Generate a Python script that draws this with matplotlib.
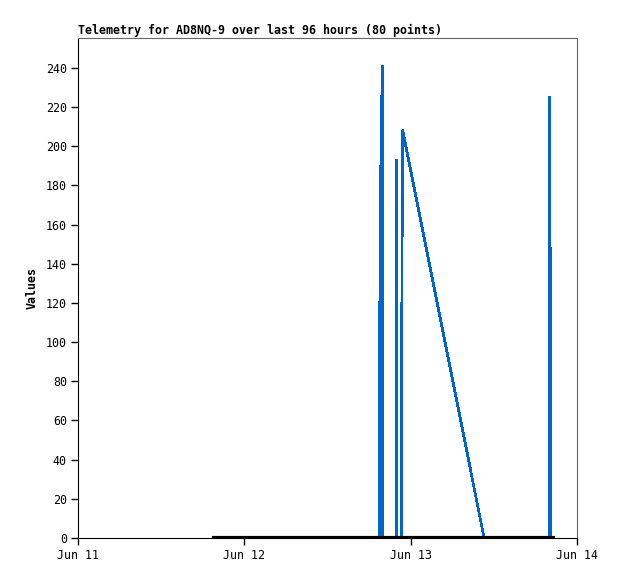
import matplotlib
matplotlib.use("Agg")
import matplotlib.pyplot as plt
import matplotlib.dates as mdates
import pandas as pd

# hours since Jun 11 00:00
hours = [19.6, 20.4, 21.3, 22.1, 23.0, 23.8, 24.7, 25.5, 26.4, 27.2,
         28.1, 28.9, 29.8, 30.6, 31.5, 32.3, 33.2, 34.0, 34.9, 35.7,
         36.6, 37.4, 38.3, 39.1, 40.0, 40.8, 41.7, 42.5, 43.48,
         43.5, 43.7, 43.9, 43.92, 44.8, 45.5, 45.98, 46.0, 46.02,
         46.68, 46.7, 46.85,
         58.6, 59.4, 60.3, 61.1, 62.0, 62.8, 63.7, 64.5, 65.4, 66.2, 67.1, 68.03,
         68.05, 68.2, 68.22, 68.5]
values = [0, 0, 0, 0, 0, 0, 0, 0, 0, 0,
          0, 0, 0, 0, 0, 0, 0, 0, 0, 0,
          0, 0, 0, 0, 0, 0, 0, 0, 0,
          97, 193, 241, 0, 0, 0, 0, 193, 0,
          0, 104, 208,
          0, 0, 0, 0, 0, 0, 0, 0, 0, 0, 0, 0,
          225, 72.5, 0, 0]
tick_days = ["2024-06-11", "2024-06-12", "2024-06-13", "2024-06-14"]

start = pd.Timestamp("2024-06-11")
times = start + pd.to_timedelta(hours, unit="h")

plt.rcParams['font.family'] = ['DejaVu Sans Mono']
fig = plt.figure(figsize=(6.18, 5.79), dpi=100)
ax = fig.add_axes([0.1262, 0.0708, 0.8075, 0.8636])

ax.plot(times, values, color="#0066cc", linewidth=1.2, antialiased=False)
ax.plot([times[0], times[-1]], [0, 0], color="black", linewidth=3, zorder=3)

ax.set_xlim(pd.Timestamp(tick_days[0]), pd.Timestamp(tick_days[-1]))
ax.set_ylim(0, 255.3)
ax.set_xticks([pd.Timestamp(d) for d in tick_days])
ax.xaxis.set_major_formatter(mdates.DateFormatter("%b %d"))
ax.set_yticks(range(0, 241, 20))
ax.tick_params(direction="out", length=5, width=1, labelsize=8.4, pad=3)

for s in ["top", "right"]:
    ax.spines[s].set_color("#666666")
for s in ["left", "bottom"]:
    ax.spines[s].set_color("black")

ax.set_ylabel("Values", fontsize=8.4, fontweight="bold", labelpad=5)
ax.set_title("Telemetry for AD8NQ-9 over last 96 hours (80 points)",
             loc="left", fontsize=8.4, fontweight="bold", pad=3)

fig.savefig("out.png", dpi=100)
